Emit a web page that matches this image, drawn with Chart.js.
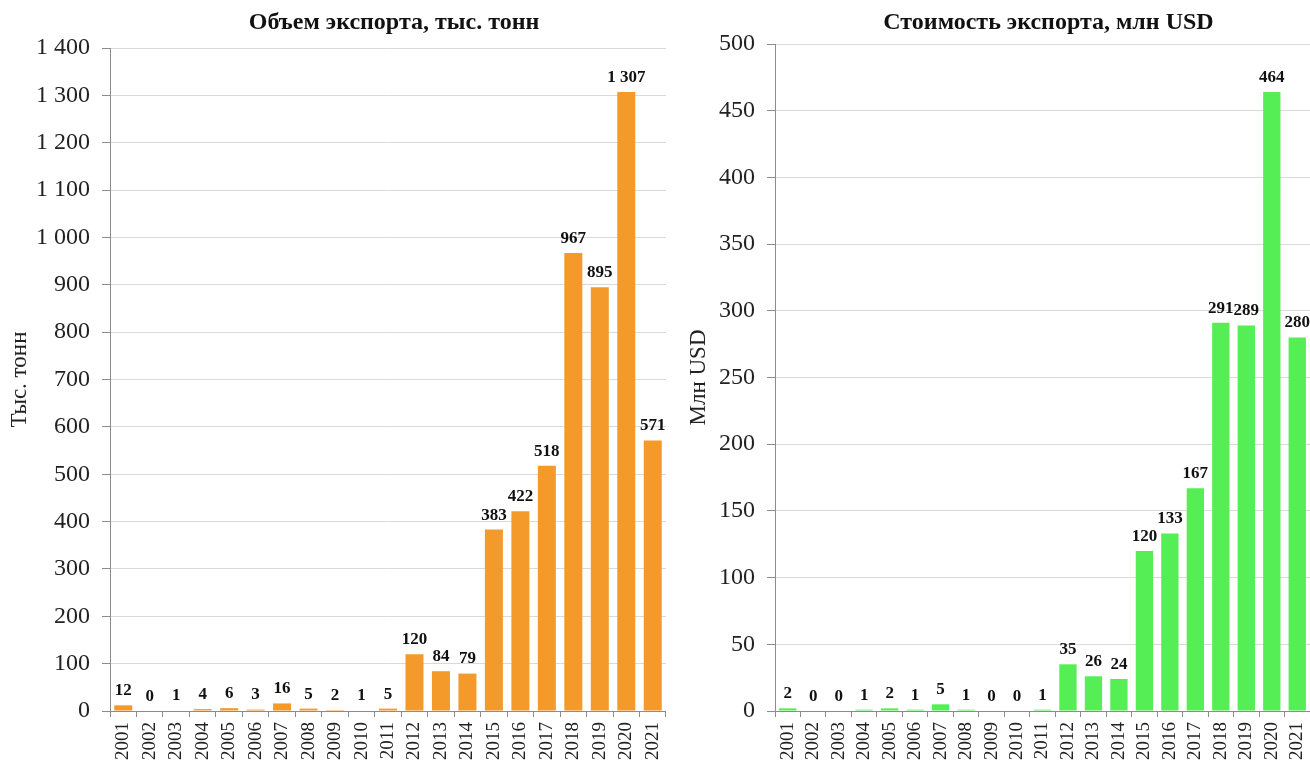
<!DOCTYPE html>
<html>
<head>
<meta charset="utf-8">
<script src="https://cdn.jsdelivr.net/npm/chart.js@4.4.0/dist/chart.umd.min.js"></script>
<style>
  body { margin: 0; background: #fff; }
  #wrap { position: relative; width: 1310px; height: 769px; }
  #boxVolume { position: absolute; left: 0; top: 0; width: 666px; height: 769px; }
  #boxValue { position: absolute; left: 660px; top: 0; width: 650px; height: 769px; }
</style>
</head>
<body>
<div id="wrap">
  <div id="boxVolume"><canvas id="graficoVolumen"></canvas></div>
  <div id="boxValue"><canvas id="graficoValor"></canvas></div>
</div>
<script>
// datos del grafico
const years = ['2001', '2002', '2003', '2004', '2005', '2006', '2007', '2008', '2009', '2010', '2011',
  '2012', '2013', '2014', '2015', '2016', '2017', '2018', '2019', '2020', '2021'];
const volumeKt = [12, 0, 1, 4, 6, 3, 16, 5, 2, 1, 5, 120, 84, 79, 383, 422, 518, 967, 895, 1307, 571];
const valueMusd = [2, 0, 0, 1, 2, 1, 5, 1, 0, 0, 1, 35, 26, 24, 120, 133, 167, 291, 289, 464, 280];
const volumeTicks = [0, 100, 200, 300, 400, 500, 600, 700, 800, 900, 1000, 1100, 1200, 1300, 1400];
const valueTicks = [0, 50, 100, 150, 200, 250, 300, 350, 400, 450, 500];

const SERIF = "'Liberation Serif', 'Times New Roman', serif";

// separador de miles con espacio: 1 400
function fmt(v) {
  return String(v).replace(/\B(?=(\d{3})+(?!\d))/g, ' ');
}

// etiquetas de valor encima de las barras + titulo centrado en el area
const barLabels = {
  id: 'barLabels',
  afterDatasetsDraw(chart, args, opts) {
    const ctx = chart.ctx;
    const meta = chart.getDatasetMeta(0);
    const data = chart.data.datasets[0].data;
    ctx.save();
    ctx.fillStyle = '#111';
    ctx.font = 'bold 17px ' + SERIF;
    ctx.textAlign = 'center';
    ctx.textBaseline = 'bottom';
    meta.data.forEach(function (bar, i) {
      ctx.fillText(fmt(data[i]), bar.x, bar.y - 6);
    });
    const area = chart.chartArea;
    ctx.font = 'bold 24px ' + SERIF;
    ctx.textBaseline = 'middle';
    ctx.fillText(opts.text, (area.left + area.right) / 2 + 6, 23);
    ctx.restore();
  }
};

function crearGrafico(id, values, tickList, color, yTitle, chartTitle, axisWidth, titlePad, top) {
  const ctx = document.getElementById(id);
  return new Chart(ctx, {
    type: 'bar',
    data: {
      labels: years,
      datasets: [{
        data: values,
        backgroundColor: color,
        borderWidth: 0,
        barPercentage: 0.68,
        categoryPercentage: 1
      }]
    },
    options: {
      responsive: true,
      maintainAspectRatio: false,
      animation: false,
      layout: { padding: { top: top, right: 0, bottom: 0, left: 0 } },
      plugins: {
        legend: { display: false },
        tooltip: { enabled: false },
        barLabels: { text: chartTitle }
      },
      scales: {
        x: {
          afterFit: function (scale) {
            scale.height = 58;
            scale.paddingLeft = 0;
            scale.paddingRight = 0;
          },
          grid: { drawOnChartArea: false, tickLength: 6, tickColor: '#8c8c8c', offset: true },
          border: { color: '#8c8c8c' },
          ticks: {
            autoSkip: false, minRotation: 90, maxRotation: 90, padding: 5,
            color: '#222', font: { family: SERIF, size: 19 }
          }
        },
        y: {
          min: 0,
          max: tickList[tickList.length - 1],
          afterFit: function (scale) { scale.width = axisWidth; },
          afterBuildTicks: function (scale) {
            scale.ticks = tickList.map(function (v) { return { value: v }; });
          },
          grid: { color: '#d9d9d9', tickLength: 8, tickColor: '#8c8c8c' },
          border: { color: '#8c8c8c' },
          ticks: {
            padding: 12, color: '#222', font: { family: SERIF, size: 24 },
            callback: function (v) { return fmt(v); }
          },
          title: {
            display: true, text: yTitle, color: '#222',
            font: { family: SERIF, size: 23 }, padding: { top: titlePad, bottom: 0 }
          }
        }
      }
    },
    plugins: [barLabels]
  });
}

crearGrafico('graficoVolumen', volumeKt, volumeTicks, '#F39A2B', 'Тыс. тонн',
  'Объем экспорта, тыс. тонн', 110, 6, 48);
crearGrafico('graficoValor', valueMusd, valueTicks, '#55EE55', 'Млн USD',
  'Стоимость экспорта, млн USD', 115, 25, 44);
</script>
</body>
</html>
